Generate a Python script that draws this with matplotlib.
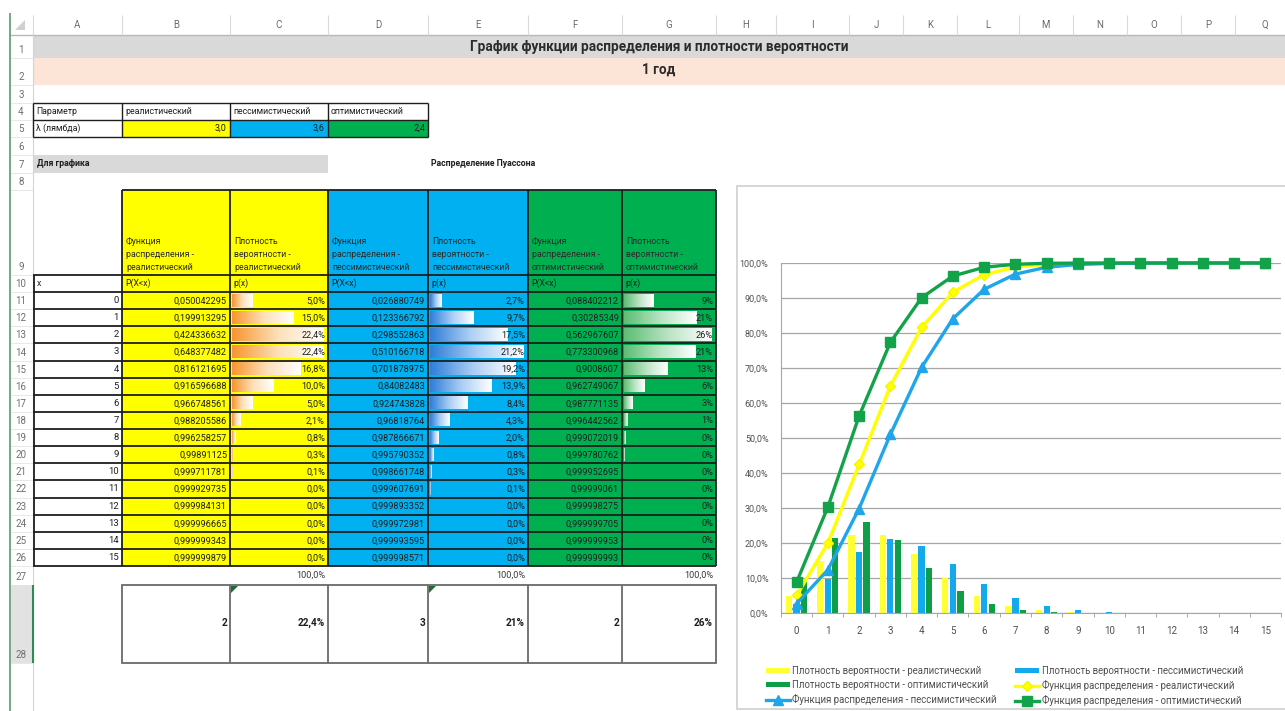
import matplotlib
matplotlib.use("Agg")
import matplotlib.pyplot as plt
from matplotlib.patches import Rectangle, Polygon
from matplotlib.colors import LinearSegmentedColormap
import numpy as np

plt.rcParams['font.family'] = ['Roboto', 'DejaVu Sans']

# ---------------- data ----------------
title = "График функции распределения и плотности вероятности"
subtitle = "1 год"
scenarios = ["реалистический", "пессимистический", "оптимистический"]
lambda_labels = ["3,0", "3,6", "2,4"]
x_values = list(range(16))

cdf_real = [0.050042295, 0.199913295, 0.424336632, 0.648377482, 0.816121695, 0.916596688,
            0.966748561, 0.988205586, 0.996258257, 0.99891125, 0.999711781, 0.999929735,
            0.999984131, 0.999996665, 0.999999343, 0.999999879]
pdf_real = [0.050, 0.150, 0.224, 0.224, 0.168, 0.100, 0.050, 0.021, 0.008, 0.003, 0.001,
            0.0, 0.0, 0.0, 0.0, 0.0]
cdf_pess = [0.026880749, 0.123366792, 0.298552863, 0.510166718, 0.701878975, 0.84082483,
            0.924743828, 0.96818764, 0.987866671, 0.995790352, 0.998661748, 0.999607691,
            0.999893352, 0.999972981, 0.999993595, 0.999998571]
pdf_pess = [0.027, 0.097, 0.175, 0.212, 0.192, 0.139, 0.084, 0.043, 0.020, 0.008, 0.003,
            0.001, 0.0, 0.0, 0.0, 0.0]
cdf_opt = [0.088402212, 0.30285349, 0.562967607, 0.773300968, 0.9008607, 0.962749067,
           0.987771135, 0.996442562, 0.999072019, 0.999780762, 0.999952695, 0.99999061,
           0.999998275, 0.999999705, 0.999999953, 0.999999993]
pdf_opt = [0.088, 0.214, 0.260, 0.210, 0.128, 0.062, 0.026, 0.009, 0.003, 0.001, 0.0,
           0.0, 0.0, 0.0, 0.0, 0.0]

mode_x = ["2", "3", "2"]
mode_p = ["22,4%", "21%", "26%"]
col_letters = list("ABCDEFGHIJKLMNOPQ")

# ---------------- layout ----------------
W, H = 1285, 711
fig = plt.figure(figsize=(W / 100, H / 100), dpi=100)
bg = fig.add_axes([0, 0, 1, 1])
bg.set_xlim(0, W)
bg.set_ylim(H, 0)
bg.axis('off')

col_edges = [33, 122, 230, 328, 428, 528, 622, 716, 776, 849, 903, 957, 1019, 1073, 1127, 1181, 1235, 1295]
row_bounds = [(35, 58), (58, 85), (85, 103), (103, 120), (120, 137), (137, 155), (155, 173),
              (173, 190), (190, 275), (275, 292)]
row_bounds += [(292 + 17.125 * i, 292 + 17.125 * (i + 1)) for i in range(16)]
row_bounds += [(566, 585), (585, 663)]

def R(r):
    return row_bounds[r - 1]

def C(c):
    i = col_letters.index(c)
    return col_edges[i], col_edges[i + 1]

def rect(x0, y0, x1, y1, fc='none', ec='none', lw=0, z=1):
    bg.add_patch(Rectangle((x0, y0), x1 - x0, y1 - y0, facecolor=fc, edgecolor=ec, linewidth=lw, zorder=z))

def hline(y, x0, x1, c='#1e1e1e', lw=1.3, z=4):
    bg.plot([x0, x1], [y, y], color=c, lw=lw, zorder=z, solid_capstyle='butt')

def vline(x, y0, y1, c='#1e1e1e', lw=1.3, z=4):
    bg.plot([x, x], [y0, y1], color=c, lw=lw, zorder=z, solid_capstyle='butt')

# column header strip
hline(35, 10, W, c='#b8b8b8', lw=1.0)
for i, L in enumerate(col_letters):
    cx = (col_edges[i] + col_edges[i + 1]) / 2 if i < 16 else 1265
    bg.text(cx, 25, L, ha='center', va='center', fontsize=7, color='#6b6b6b')
    vline(col_edges[i], 15, 35, c='#dadada', lw=0.8)
bg.add_patch(Polygon([[25, 20], [25, 30], [15, 30]], closed=True, fc='#d0d0d0', ec='none'))

# gutter
vline(10, 13, H, c='#5a9a70', lw=1.2)
vline(33, 35, H, c='#d4d4d4', lw=0.8)
rect(11, 585, 33, 663, fc='#e2e2e2', z=0.5)
vline(33, 585, 663, c='#2e8b57', lw=1.5)
for r in range(1, 29):
    y0, y1 = R(r)
    hline(y1, 10, 33, c='#e4e4e4', lw=0.6, z=1)
    bg.text(21, y1 - 8, str(r), ha='center', va='center', fontsize=7, color='#6e6e6e')

# rows 1-2 (title band)
rect(33, 35, W, 58, fc='#d9d9d9', z=0.5)
rect(33, 58, W, 85, fc='#fce4d6', z=0.5)
bg.text(659, 46.5, title, ha='center', va='center', fontsize=9.8, fontweight='bold', color='#2b2b2b')
bg.text(659, 70, subtitle, ha='center', va='center', fontsize=9.8, fontweight='bold', color='#2b2b2b')

# parameter table rows 4-5
param_fill = ['#ffff00', '#00b0f0', '#00b050']
y40, y41 = R(4)
y50, y51 = R(5)
bg.text(36, (y40 + y41) / 2, "Параметр", ha='left', va='center', fontsize=6.3, color='#1e1e1e')
bg.text(36, (y50 + y51) / 2, "λ (лямбда)", ha='left', va='center', fontsize=6.3, color='#1e1e1e')
for k, c in enumerate(['B', 'C', 'D']):
    x0, x1 = C(c)
    rect(x0, y50, x1, y51, fc=param_fill[k], z=0.8)
    bg.text(x0 + 3, (y40 + y41) / 2, scenarios[k], ha='left', va='center', fontsize=6.3, color='#1e1e1e')
    bg.text(x1 - 3, (y50 + y51) / 2, lambda_labels[k], ha='right', va='center', fontsize=6.5, color='#1e1e1e')
for y in (y40, y41, y51):
    hline(y, 33, 428, lw=1.0)
for x in (33, 122, 230, 328, 428):
    vline(x, y40, y51, lw=1.0)

# row 7
y70, y71 = R(7)
rect(33, y70, 328, y71, fc='#d9d9d9', z=0.5)
bg.text(37, (y70 + y71) / 2, "Для графика", ha='left', va='center', fontsize=6.3, fontweight='bold', color='#1e1e1e')
bg.text(431, (y70 + y71) / 2, "Распределение Пуассона", ha='left', va='center', fontsize=6.3, fontweight='bold', color='#1e1e1e')

# main table
col_fill = {'B': '#ffff00', 'C': '#ffff00', 'D': '#00b0f0', 'E': '#00b0f0', 'F': '#00b050', 'G': '#00b050'}
headers = {}
for k, c in enumerate(['B', 'D', 'F']):
    headers[c] = "Функция\nраспределения -\n" + scenarios[k]
for k, c in enumerate(['C', 'E', 'G']):
    headers[c] = "Плотность\nвероятности -\n" + scenarios[k]
sub_hdr = {'B': 'P(X<x)', 'C': 'p(x)', 'D': 'P(X<x)', 'E': 'p(x)', 'F': 'P(X<x)', 'G': 'p(x)'}

t0 = R(9)[0]
t1 = R(26)[1]
for c, fc in col_fill.items():
    x0, x1 = C(c)
    rect(x0, t0, x1, t1, fc=fc, z=0.5)
    bg.text(x0 + 4, R(9)[1] - 3, headers[c], ha='left', va='bottom', fontsize=6.3,
            color='#2a2a2a', linespacing=1.55)
    y0, y1 = R(10)
    bg.text(x0 + 3, (y0 + y1) / 2, sub_hdr[c], ha='left', va='center', fontsize=6.2, color='#1e1e1e')

y0, y1 = R(10)
bg.text(37, (y0 + y1) / 2, "x", ha='left', va='center', fontsize=6.3, color='#1e1e1e')

bar_cmaps = {
    'C': LinearSegmentedColormap.from_list('o', ['#f7962f', '#fde0b8', '#ffffff']),
    'E': LinearSegmentedColormap.from_list('b', ['#2f7fd8', '#a9cdf3', '#ffffff']),
    'G': LinearSegmentedColormap.from_list('g', ['#5cbf74', '#b9e3c3', '#ffffff']),
}
grad = np.linspace(0, 1, 64).reshape(1, -1)

def fmt_gen(v):
    return ("%.10g" % v).replace('.', ',')

for i, xv in enumerate(x_values):
    y0, y1 = R(11 + i)
    ym = (y0 + y1) / 2
    bg.text(119, ym, str(xv), ha='right', va='center', fontsize=6.8, color='#1e1e1e')
    cols = [('B', cdf_real, None), ('C', pdf_real, '%.1f%%'), ('D', cdf_pess, None),
            ('E', pdf_pess, '%.1f%%'), ('F', cdf_opt, None), ('G', pdf_opt, '%.0f%%')]
    for c, arr, fmtp in cols:
        x0, x1 = C(c)
        v = arr[i]
        if fmtp is None:
            s = fmt_gen(v)
        else:
            s = (fmtp % (v * 100)).replace('.', ',')
            vmax = max(arr)
            if v > 0:
                bl = (x1 - x0 - 6) * v / vmax
                bg.imshow(grad, extent=[x0 + 2, x0 + 2 + bl, y1 - 2.5, y0 + 2.5], cmap=bar_cmaps[c],
                          aspect='auto', zorder=2, interpolation='bilinear')
        bg.text(x1 - 3, ym + 0.5, s, ha='right', va='center', fontsize=6.6, color='#1e1e1e', zorder=5)

# table borders
for r in range(9, 27):
    ya, yb = R(r)
    xs = 122 if r == 9 else 33
    hline(ya, xs, 716)
hline(t1, 33, 716)
for x in [122, 230, 328, 428, 528, 622, 716]:
    vline(x, t0, t1)
vline(34, R(10)[0], t1)

# row 27 totals
y0, y1 = R(27)
for c in ['C', 'E', 'G']:
    x0, x1 = C(c)
    bg.text(x1 - 3, (y0 + y1) / 2, "100,0%", ha='right', va='center', fontsize=6.6, color='#3a3a3a')

# row 28 summary boxes
y0, y1 = R(28)
rect(122, y0, 716, y1, fc='white', ec='#6a6a6a', lw=1.3, z=3)
for x in [230, 328, 428, 528, 622]:
    vline(x, y0, y1, c='#6a6a6a', lw=1.3)
vals28 = [mode_x[0], mode_p[0], mode_x[1], mode_p[1], mode_x[2], mode_p[2]]
for k, c in enumerate(['B', 'C', 'D', 'E', 'F', 'G']):
    x0, x1 = C(c)
    bg.text(x1 - 3, (y0 + y1) / 2 - 1, vals28[k], ha='right', va='center', fontsize=7.2,
            fontweight='bold', color='#1e1e1e', zorder=5)
for c in ['C', 'E']:
    x0, _ = C(c)
    bg.add_patch(Polygon([[x0 + 1, y0 + 1], [x0 + 8, y0 + 1], [x0 + 1, y0 + 8]], closed=True,
                         fc='#1f6b35', ec='none', zorder=6))

# chart frame
rect(737, 186, 1300, 709, fc='white', ec='#cfcfcf', lw=1.2, z=6)

bg.set_xlim(0, W)
bg.set_ylim(H, 0)

# ---------------- chart ----------------
ax = fig.add_axes([781 / W, (H - 613) / H, 500 / W, 350 / H])
ax.set_zorder(10)
ax.patch.set_alpha(0)
xs = np.array(x_values)
bw = 0.2
off = 0.24
b1 = ax.bar(xs - off, pdf_real, width=bw, color='#ffff33', zorder=2)
b2 = ax.bar(xs, pdf_pess, width=bw, color='#14a8ec', zorder=2)
b3 = ax.bar(xs + off, pdf_opt, width=bw, color='#0f9e48', zorder=2)
l1, = ax.plot(xs, cdf_real, color='#ffff00', lw=2.4, marker='D', ms=5, mec='#f5f500', mfc='#ffff00',
              zorder=3, clip_on=False)
l2, = ax.plot(xs, cdf_pess, color='#1ea5ea', lw=2.4, marker='^', ms=6.5, mec='#1ea5ea', mfc='#1ea5ea',
              zorder=4, clip_on=False)
l3, = ax.plot(xs, cdf_opt, color='#12a24a', lw=2.4, marker='s', ms=7.5, mec='#12a24a', mfc='#12a24a',
              zorder=5, clip_on=False)

ax.set_xlim(-0.5, 15.5)
ax.set_ylim(0, 1.0)
yt = np.round(np.arange(0, 1.01, 0.1), 1)
ax.set_yticks(yt)
ax.set_yticklabels([("%.1f%%" % (v * 100)).replace('.', ',') for v in yt])
ax.set_xticks(xs)
ax.set_xticklabels([str(v) for v in x_values])
ax.set_xticks(np.arange(-0.5, 15.6, 1), minor=True)
ax.tick_params(axis='x', which='major', length=0, labelsize=7, colors='#505050', pad=9)
ax.tick_params(axis='x', which='minor', length=3, color='#9a9a9a', direction='out')
ax.tick_params(axis='y', which='major', length=0, labelsize=6.5, colors='#505050', pad=9)
ax.grid(axis='y', color='#a6a6a6', lw=0.9, zorder=0)
ax.set_axisbelow(True)
for s in ['top', 'right']:
    ax.spines[s].set_visible(False)
ax.spines['left'].set_color('#a6a6a6')
ax.spines['bottom'].set_color('#a6a6a6')

lab_bar = ["Плотность вероятности - " + s for s in scenarios]
lab_line = ["Функция распределения - " + s for s in scenarios]
# legend is filled column by column: col1 = bar real, bar opt, line pess; col2 = bar pess, line real, line opt
handles = [b1, b3, l2, b2, l1, l3]
labels = [lab_bar[0], lab_bar[2], lab_line[1], lab_bar[1], lab_line[0], lab_line[2]]
leg = fig.legend(handles, labels, ncol=2, loc='upper left',
                 bbox_to_anchor=(757 / W, 1 - 657 / H), frameon=False, fontsize=6.9,
                 handlelength=2.5, handleheight=0.45, handletextpad=0.3, labelspacing=0.45,
                 columnspacing=1.9, labelcolor='#505050')
leg.set_zorder(11)

fig.savefig("out.png", dpi=100)
